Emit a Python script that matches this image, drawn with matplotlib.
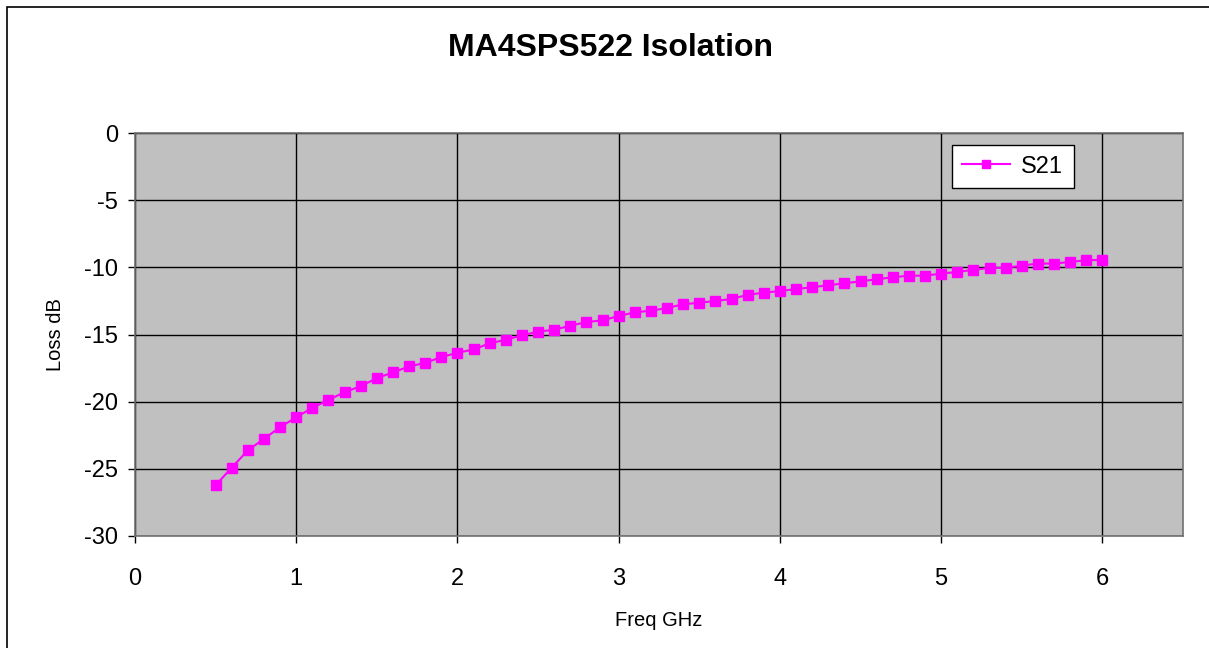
import matplotlib
matplotlib.use('Agg')
import matplotlib.pyplot as plt
from matplotlib.patches import Rectangle

plt.rcParams['font.family'] = ['Liberation Sans', 'DejaVu Sans']
plt.rcParams['axes.unicode_minus'] = False

# S21 isolation, 0.5 to 6.0 GHz in 0.1 GHz steps
freq = [0.5, 0.6, 0.7, 0.8, 0.9, 1.0, 1.1, 1.2, 1.3, 1.4,
        1.5, 1.6, 1.7, 1.8, 1.9, 2.0, 2.1, 2.2, 2.3, 2.4,
        2.5, 2.6, 2.7, 2.8, 2.9, 3.0, 3.1, 3.2, 3.3, 3.4,
        3.5, 3.6, 3.7, 3.8, 3.9, 4.0, 4.1, 4.2, 4.3, 4.4,
        4.5, 4.6, 4.7, 4.8, 4.9, 5.0, 5.1, 5.2, 5.3, 5.4,
        5.5, 5.6, 5.7, 5.8, 5.9, 6.0]
s21 = [-26.22, -24.91, -23.62, -22.77, -21.90, -21.16, -20.46, -19.87, -19.29, -18.85,
       -18.25, -17.82, -17.38, -17.11, -16.68, -16.36, -16.11, -15.66, -15.39, -15.06,
       -14.79, -14.64, -14.35, -14.07, -13.95, -13.62, -13.35, -13.23, -13.03, -12.75,
       -12.64, -12.50, -12.36, -12.04, -11.89, -11.76, -11.62, -11.48, -11.33, -11.19,
       -11.04, -10.89, -10.74, -10.62, -10.62, -10.47, -10.34, -10.19, -10.04, -10.04,
       -9.87, -9.72, -9.72, -9.60, -9.47, -9.45]

xticks = [0, 1, 2, 3, 4, 5, 6]
yticks = [0, -5, -10, -15, -20, -25, -30]

fig = plt.figure(figsize=(12.09, 6.48), dpi=100)
ax = fig.add_axes([135 / 1209, 1 - 536 / 648, (1183 - 135) / 1209, (536 - 133) / 648])

# outer chart frame (only left/top edges visible in the reference)
fig.patches.append(Rectangle((7 / 1209, -0.5), 1.5, 1 - 7 / 648 + 0.5,
                             transform=fig.transFigure, fill=False,
                             edgecolor='black', linewidth=1.2))

ax.set_facecolor('#C0C0C0')
ax.plot(freq, s21, color='#FF00FF', linewidth=1.5, marker='s',
        markersize=6.5, label='S21')

ax.set_xlim(0, 6.5)
ax.set_ylim(-30, 0)
ax.set_xticks(xticks)
ax.set_yticks(yticks)
ax.tick_params(labelsize=17, length=5, width=1, color='black')
ax.tick_params(axis='x', pad=18)
ax.tick_params(axis='y', pad=7)
ax.grid(True, color='black', linewidth=1)
ax.set_axisbelow(True)
for sp in ax.spines.values():
    sp.set_color('#707070')
    sp.set_linewidth(1.2)

ax.set_xlabel('Freq GHz', fontsize=14.5, labelpad=15)
ax.set_ylabel('Loss dB', fontsize=14.5, labelpad=14)
fig.text(611 / 1209, 1 - 48 / 648, 'MA4SPS522 Isolation', fontsize=23,
         fontweight='bold', ha='center', va='center')

leg = ax.legend(loc='upper right', bbox_to_anchor=(1074 / 1209, 1 - 145 / 648),
                bbox_transform=fig.transFigure, fontsize=17, fancybox=False,
                framealpha=1, edgecolor='black', borderpad=0.45,
                borderaxespad=0, handlelength=2.0, handletextpad=0.5,
                markerscale=0.8)
leg.get_frame().set_linewidth(1)

fig.savefig('out.png', dpi=100)
